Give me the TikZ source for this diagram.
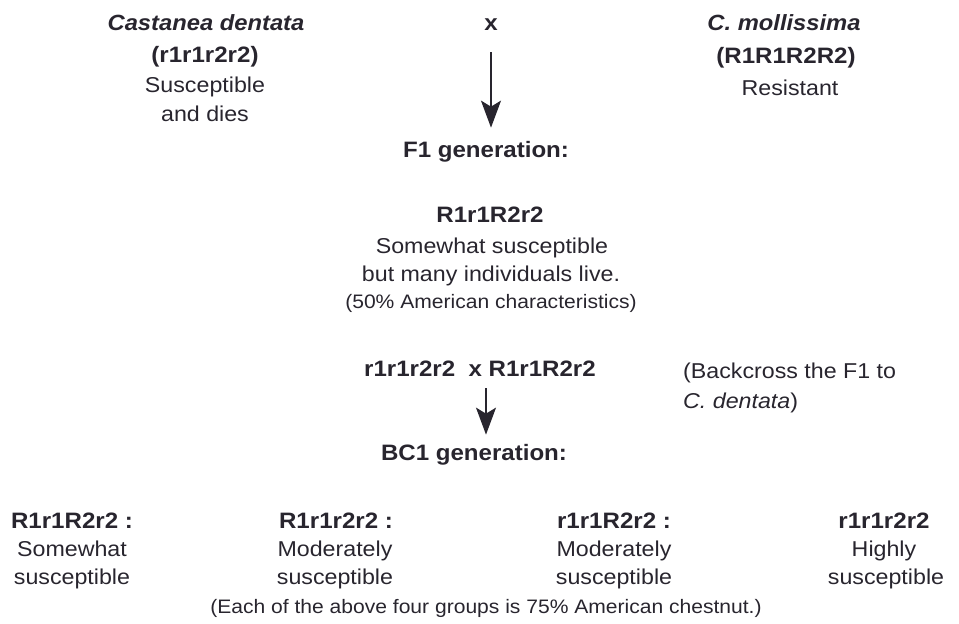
\documentclass[tikz,border=0pt]{standalone}
\usepackage{fontspec}
\setmainfont[FakeStretch=1.08]{Liberation Sans}
\usetikzlibrary{arrows.meta}
\definecolor{ink}{RGB}{40,37,46}
\begin{document}
\begin{tikzpicture}[x=1pt,y=-1pt,
  txt/.style={inner sep=0pt, anchor=base, text=ink, font=\fontsize{21.5}{26}\selectfont},
  bt/.style={txt, font=\fontsize{22.3}{26}\selectfont\bfseries},
  bit/.style={txt, font=\fontsize{22}{26}\selectfont\bfseries\itshape},
  sm/.style={txt, font=\fontsize{19.5}{24}\selectfont},
  arr/.style={draw=ink, line width=1.6pt, -{Stealth[length=27pt,width=20pt,inset=6pt]}}]
\useasboundingbox (0,0) rectangle (959,624);
% left parent
\node[bit] (cd) at (206,30) {Castanea dentata};
\node[bt] (cdg) at (205,62) {(r1r1r2r2)};
\node[txt] (cd1) at (205,92) {Susceptible};
\node[txt] (cd2) at (205,121) {and dies};
% cross
\node[bt] (xm) at (491,30) {x};
% right parent
\node[bit] (cm) at (784,30) {C. mollissima};
\node[bt] (cmg) at (786,63) {(R1R1R2R2)};
\node[txt] (cm1) at (790,95) {Resistant};
% F1
\node[bt] (f1) at (486,157) {F1 generation:};
\node[bt] (f1g) at (490,222) {R1r1R2r2};
\node[txt] (f1a) at (492,253) {Somewhat susceptible};
\node[txt] (f1b) at (491,281) {but many individuals live.};
\node[sm] (f1c) at (491,308) {(50\% American characteristics)};
% backcross
\node[bt] (bx) at (480,376) {r1r1r2r2\ \ x R1r1R2r2};
\node[txt, anchor=base west] (bn1) at (683,378) {(Backcross the F1 to};
\node[txt, anchor=base west] (bn2) at (683,408) {\textit{C. dentata})};
\node[bt] (bc1) at (474,460) {BC1 generation:};
% BC1 groups
\node[bt] (g1) at (72,528) {R1r1R2r2 :};
\node[txt] (g1a) at (72,556) {Somewhat};
\node[txt] (g1b) at (72,584) {susceptible};
\node[bt] (g2) at (336,528) {R1r1r2r2 :};
\node[txt] (g2a) at (335,556) {Moderately};
\node[txt] (g2b) at (335,584) {susceptible};
\node[bt] (g3) at (614,528) {r1r1R2r2 :};
\node[txt] (g3a) at (614,556) {Moderately};
\node[txt] (g3b) at (614,584) {susceptible};
\node[bt] (g4) at (884,528) {r1r1r2r2};
\node[txt] (g4a) at (884,556) {Highly};
\node[txt] (g4b) at (886,584) {susceptible};
\node[sm] (note) at (486,613) {(Each of the above four groups is 75\% American chestnut.)};
% arrows
\coordinate (ax1) at (491,0);
\coordinate (ax2) at (486,0);
\draw[arr, shorten <=22pt, shorten >=13pt] (xm.south -| ax1) -- (f1.north -| ax1);
\draw[arr, shorten <=12pt, shorten >=9pt] (bx.south -| ax2) -- (bc1.north -| ax2);
\end{tikzpicture}
\end{document}
